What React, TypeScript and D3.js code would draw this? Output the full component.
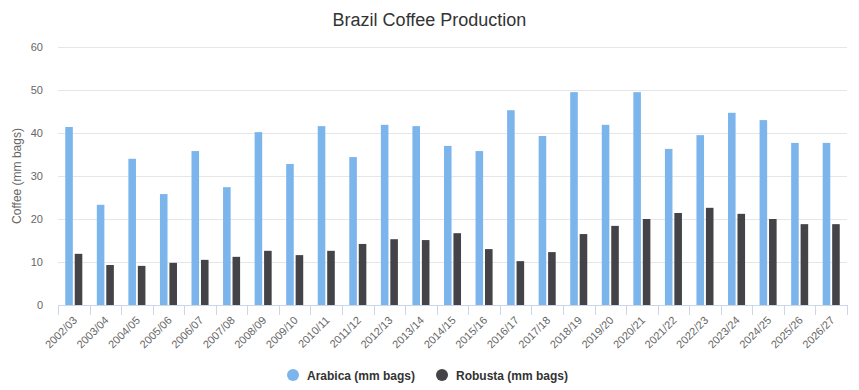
import React, { useEffect, useRef } from "react";
import * as d3 from "d3";

const seasons = [
  "2002/03", "2003/04", "2004/05", "2005/06", "2006/07", "2007/08", "2008/09",
  "2009/10", "2010/11", "2011/12", "2012/13", "2013/14", "2014/15", "2015/16",
  "2016/17", "2017/18", "2018/19", "2019/20", "2020/21", "2021/22", "2022/23",
  "2023/24", "2024/25", "2025/26", "2026/27",
];
const arabica = [
  41.4, 23.3, 34.0, 25.8, 35.8, 27.4, 40.2, 32.8, 41.6, 34.4, 41.9, 41.6, 37.0,
  35.8, 45.3, 39.3, 49.5, 41.9, 49.5, 36.3, 39.5, 44.7, 43.0, 37.7, 37.7,
];
const robusta = [
  11.9, 9.3, 9.1, 9.8, 10.5, 11.2, 12.6, 11.6, 12.6, 14.2, 15.3, 15.1, 16.7,
  13.0, 10.2, 12.3, 16.5, 18.4, 20.0, 21.4, 22.6, 21.2, 20.0, 18.8, 18.8,
];
const yTicks = [0, 10, 20, 30, 40, 50, 60];
const seriesNames = ["Arabica (mm bags)", "Robusta (mm bags)"];
const colors = ["#7cb5ec", "#434348"];

const FONT = '"Liberation Sans", Arial, Helvetica, sans-serif';

const App = () => {
  const ref = useRef<SVGSVGElement>(null);

  useEffect(() => {
    const svg = d3.select(ref.current);
    svg.selectAll("*").remove();

    const W = 859,
      H = 390;
    const margin = { top: 47, right: 12, bottom: 85, left: 58 };
    const width = W - margin.left - margin.right;
    const height = H - margin.top - margin.bottom;

    // title
    svg
      .append("text")
      .attr("x", W / 2)
      .attr("y", 26)
      .attr("text-anchor", "middle")
      .style("font-family", FONT)
      .style("font-size", "18px")
      .attr("fill", "#333333")
      .text("Brazil Coffee Production");

    const g = svg
      .append("g")
      .attr("transform", `translate(${margin.left},${margin.top})`);

    const x = d3.scaleBand().domain(seasons).range([0, width]).padding(0.2).paddingOuter(0.2);
    // highcharts-like group: 0.2 group padding each side
    const x0 = d3.scaleBand().domain(seasons).range([0, width]).padding(0);
    const step = x0.bandwidth();
    const x1 = d3
      .scaleBand()
      .domain(["0", "1"])
      .range([step * 0.2, step * 0.8])
      .paddingInner(0.2)
      .paddingOuter(0.1);
    void x;

    const y = d3.scaleLinear().domain([0, 60]).range([height, 0]);

    // grid
    g.append("g")
      .selectAll("line")
      .data(yTicks)
      .join("line")
      .attr("x1", 0)
      .attr("x2", width)
      .attr("y1", (d) => Math.round(y(d)) + 0.5)
      .attr("y2", (d) => Math.round(y(d)) + 0.5)
      .attr("stroke", "#e6e6e6")
      .attr("stroke-width", 1);

    // y labels
    g.append("g")
      .selectAll("text")
      .data(yTicks)
      .join("text")
      .attr("x", -15)
      .attr("y", (d) => y(d) + 4)
      .attr("text-anchor", "end")
      .style("font-family", FONT)
      .style("font-size", "11px")
      .attr("fill", "#666666")
      .text((d) => d);

    // y title
    svg
      .append("text")
      .attr("transform", `translate(21,${margin.top + height / 2}) rotate(-90)`)
      .attr("text-anchor", "middle")
      .style("font-family", FONT)
      .style("font-size", "12px")
      .attr("fill", "#666666")
      .text("Coffee (mm bags)");

    // bars
    [arabica, robusta].forEach((vals, si) => {
      g.append("g")
        .selectAll("rect")
        .data(vals)
        .join("rect")
        .attr("x", (d, i) => (x0(seasons[i]) as number) + (x1(String(si)) as number))
        .attr("y", (d) => y(d))
        .attr("width", x1.bandwidth())
        .attr("height", (d) => height - y(d))
        .attr("fill", colors[si]);
    });

    // x axis
    const xAxis = g.append("g").attr("transform", `translate(0,${height})`);
    xAxis
      .append("line")
      .attr("x1", 0)
      .attr("x2", width)
      .attr("y1", 0.5)
      .attr("y2", 0.5)
      .attr("stroke", "#ccd6eb");
    const bounds = seasons.map((s) => x0(s) as number).concat([width]);
    xAxis
      .selectAll("line.tick")
      .data(bounds)
      .join("line")
      .attr("class", "tick")
      .attr("x1", (d) => Math.round(d) + 0.5)
      .attr("x2", (d) => Math.round(d) + 0.5)
      .attr("y1", 0)
      .attr("y2", 10)
      .attr("stroke", "#ccd6eb");
    xAxis
      .selectAll("text")
      .data(seasons)
      .join("text")
      .attr(
        "transform",
        (d) => `translate(${(x0(d) as number) + step / 2 + 4},${16}) rotate(-45)`
      )
      .attr("text-anchor", "end")
      .style("font-family", FONT)
      .style("font-size", "11px")
      .attr("fill", "#666666")
      .text((d) => d);

    // legend
    const legendX = [293, 442];
    const legend = svg.append("g");
    seriesNames.forEach((name, i) => {
      legend
        .append("circle")
        .attr("cx", legendX[i])
        .attr("cy", 375)
        .attr("r", 6)
        .attr("fill", colors[i]);
      legend
        .append("text")
        .attr("x", legendX[i] + 14)
        .attr("y", 379.5)
        .style("font-family", FONT)
        .style("font-size", "12px")
        .style("font-weight", "bold")
        .attr("fill", "#333333")
        .text(name);
    });
  }, []);

  return (
    <svg
      ref={ref}
      width={859}
      height={390}
      style={{ position: "absolute", left: 0, top: 0, background: "#fff" }}
    />
  );
};

export default App;
